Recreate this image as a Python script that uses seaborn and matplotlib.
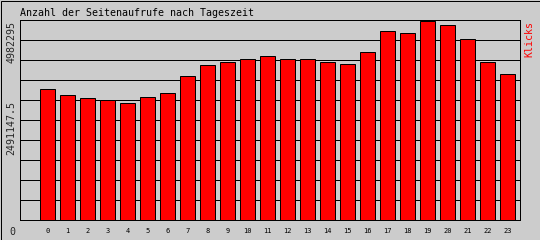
import matplotlib
matplotlib.use("Agg")
import matplotlib.pyplot as plt
import seaborn as sns
import numpy as np
import pandas as pd
from matplotlib.patches import Rectangle

# ---- data ----
hours = [str(h) for h in range(24)]
clicks = [3263400, 3113900, 3039200, 2989400, 2914600, 3064100, 3163800, 3587300,
          3861300, 3936000, 4010700, 4085500, 4010700, 4010700, 3936000, 3886200,
          4185100, 4708300, 4658400, 4957400, 4857700, 4508900, 3936000, 3637100]
y_max = 4982295
y_labels = ["0", "2491147.5", "4982295"]
title = "Anzahl der Seitenaufrufe nach Tageszeit"
y_title = "Klicks"

df = pd.DataFrame({"hour": hours, "clicks": clicks})

W, H = 540, 240
BG = "#cccccc"
sns.set_theme(style="white")
plt.rcParams["font.family"] = ["DejaVu Sans Mono", "DejaVu Sans"]

fig = plt.figure(figsize=(W / 100, H / 100), dpi=100, facecolor=BG)
ax = fig.add_axes([20 / W, 20 / H, 500 / W, 200 / H])
ax.set_facecolor(BG)

px = 0.72  # one pixel in points
sns.barplot(data=df, x="hour", y="clicks", order=hours, color="#ff0000",
            saturation=1, width=0.75, edgecolor="black", linewidth=px,
            ax=ax, zorder=3)

ax.set_xlim(-1.375, 23.625)
ax.set_ylim(0, y_max)
ax.set_yticks(np.linspace(0, y_max, 11))
ax.set_yticklabels([])
ax.yaxis.grid(True, color="black", linewidth=px, zorder=0)
ax.xaxis.grid(False)
ax.set_axisbelow(True)
ax.tick_params(axis="y", length=0)
ax.tick_params(axis="x", length=0, pad=6, labelsize=5, colors="black")
ax.set_xlabel("")
ax.set_ylabel("")
for s in ax.spines.values():
    s.set_visible(True)
    s.set_color("black")
    s.set_linewidth(px)
    s.set_zorder(5)

def fx(x):
    return x / W

def fy(y):
    return 1 - y / H

fs = 7.2
fig.text(fx(20), fy(15.5), title, fontsize=fs, color="black", ha="left", va="baseline")
fig.text(fx(11.5), fy(21), y_labels[2], fontsize=fs, rotation=90, ha="center", va="top")
fig.text(fx(11.5), fy(101), y_labels[1], fontsize=fs, rotation=90, ha="center", va="top")
fig.text(fx(12.5), fy(232), y_labels[0], fontsize=fs, ha="center", va="center")
fig.text(fx(529), fy(21), y_title, fontsize=fs, rotation=90, color="#ff0000",
         ha="center", va="top")

fig.add_artist(Rectangle((0.5 / W, 0.5 / H), 1 - 1 / W, 1 - 1 / H,
                         transform=fig.transFigure, fill=False,
                         edgecolor="black", linewidth=px))

fig.savefig("out.png", dpi=100, facecolor=BG)
